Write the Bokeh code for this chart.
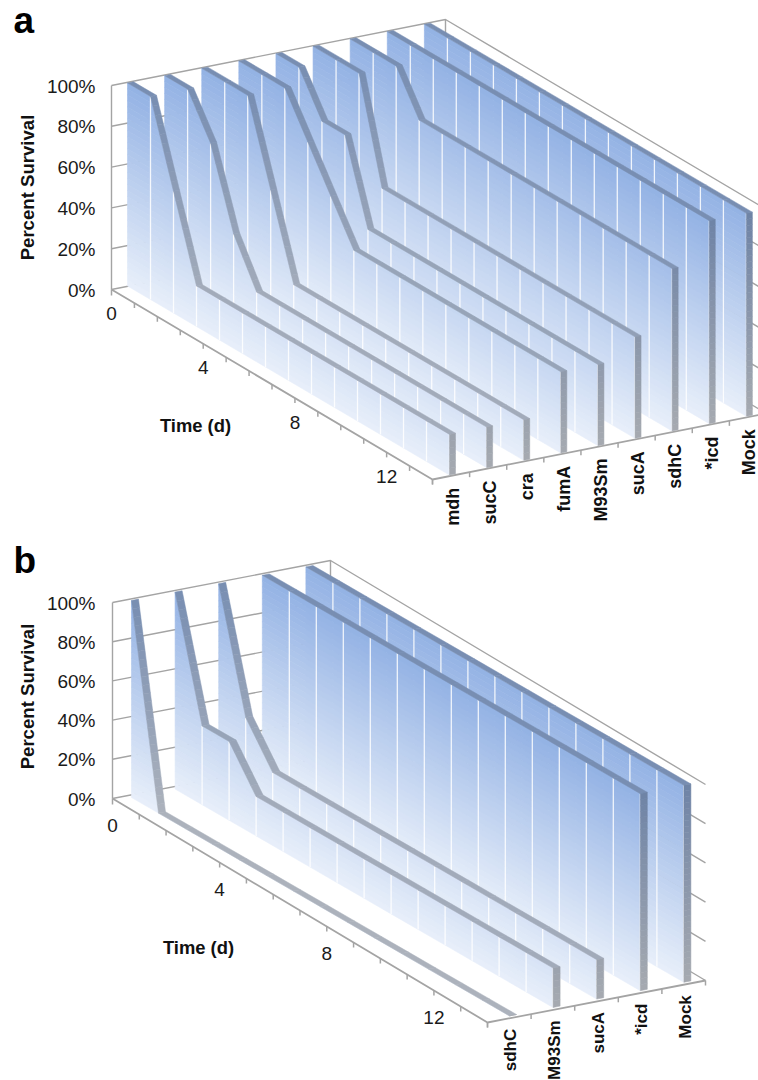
from bokeh.plotting import figure
from bokeh.layouts import column
from bokeh.models import Range1d
from bokeh.core.properties import value
from bokeh.embed import file_html
from bokeh.resources import INLINE

# ---------------- data (percent survival at day 0..14) ----------------
a_names = ["mdh", "sucC", "cra", "fumA", "M93Sm", "sucA", "sdhC", "*icd", "Mock"]
a_mdh = [100, 100, 60, 20, 20, 20, 20, 20, 20, 20, 20, 20, 20, 20, 20]
a_sucC = [100, 100, 80, 42, 20, 20, 20, 20, 20, 20, 20, 20, 20, 20, 20]
a_cra = [100, 100, 100, 60, 20, 20, 20, 20, 20, 20, 20, 20, 20, 20, 20]
a_fumA = [100, 100, 100, 80, 60, 40, 40, 40, 40, 40, 40, 40, 40, 40, 40]
a_M93Sm = [100, 100, 80, 80, 40, 40, 40, 40, 40, 40, 40, 40, 40, 40, 40]
a_sucA = [100, 100, 100, 50, 50, 50, 50, 50, 50, 50, 50, 50, 50, 50, 50]
a_sdhC = [100, 100, 100, 80, 80, 80, 80, 80, 80, 80, 80, 80, 80, 80, 80]
a_icd = [100] * 15
a_Mock = [100] * 15

b_names = ["sdhC", "M93Sm", "sucA", "*icd", "Mock"]
b_sdhC = [100, 0, 0, 0, 0, 0, 0, 0, 0, 0, 0, 0, 0, 0, 0]
b_M93Sm = [100, 40, 40, 20, 20, 20, 20, 20, 20, 20, 20, 20, 20, 20, 20]
b_sucA = [100, 40, 20, 20, 20, 20, 20, 20, 20, 20, 20, 20, 20, 20, 20]
b_icd = [100] * 15
b_Mock = [100] * 15

y_ticks = [0, 20, 40, 60, 80, 100]
t_ticks = [0, 4, 8, 12]
FONT = "Liberation Sans"
AXIS = "#a4a4a4"
W = 758


def lerp(c0, c1, f):
    return "#%02x%02x%02x" % tuple(round(a + (b - a) * f) for a, b in zip(c0, c1))


WALL0, WALL1 = (232, 239, 250), (147, 178, 228)
STRIP0, STRIP1 = (172, 178, 188), (120, 142, 178)
COL0, COL1 = (166, 170, 176), (110, 131, 166)


def clip(poly, level, keep_above):
    out = []
    for i, (t0, v0) in enumerate(poly):
        t1, v1 = poly[(i + 1) % len(poly)]
        in0 = v0 >= level if keep_above else v0 <= level
        in1 = v1 >= level if keep_above else v1 <= level
        if in0:
            out.append((t0, v0))
        if in0 != in1:
            f = (level - v0) / (v1 - v0)
            out.append((t0 + (t1 - t0) * f, level))
    return out


def panel(y0, y1, cfg, names, series, letter):
    p = figure(width=W, height=y1 - y0, x_range=Range1d(0, W), y_range=Range1d(y1, y0),
               output_backend="svg", toolbar_location=None, min_border=0,
               x_axis_location=None, y_axis_location=None, outline_line_color=None,
               background_fill_color="white", border_fill_color="white")
    p.grid.visible = False
    n = len(names)
    ox, oy, h = cfg["ox"], cfg["oy"], cfg["h"]
    cx, cy = cfg["cat"]
    tx, ty = cfg["time"]
    sx, sy = cx / n, cy / n
    ux, uy = tx / 14, ty / 14

    # back planes: gridlines on the day-0 wall and on the far side wall
    gx, gy = [], []
    for v in y_ticks:
        yy = oy - h * v / 100
        gx.append([ox, ox + cx, ox + cx + tx])
        gy.append([yy, yy + cy, yy + cy + ty])
    gx.append([ox, ox])
    gy.append([oy, oy - h])
    gx.append([ox + cx, ox + cx])
    gy.append([oy + cy, oy + cy - h])
    p.multi_line(gx, gy, line_color=AXIS, line_width=1.4)

    # axes on the floor
    p.line([ox, ox + tx, ox + tx + cx], [oy, oy + ty, oy + ty + cy], line_color=AXIS, line_width=1.8)
    kx, ky = [[ox, ox]], [[oy, oy + 6]]
    for i in range(1, 15):
        kx.append([ox + ux * i] * 2)
        ky.append([oy + uy * i, oy + uy * i + 5])
    for i in range(0, n + 1):
        kx.append([ox + tx + sx * i] * 2)
        ky.append([oy + ty + sy * i, oy + ty + sy * i + 5])
    p.multi_line(kx, ky, line_color=AXIS, line_width=1.5)

    # walls, painted from the back to the front
    wx0, wy0, wh = cfg["wx"], cfg["wy"], cfg["wh"]
    dx, dy = cfg["wt"]
    ex, ey = cfg["depth"]
    for s in reversed(range(n)):
        vals = series[s]
        bx = wx0 + sx * s
        by = wy0 + sy * s
        P = lambda t, v: (bx + dx * t, by + dy * t - wh * v / 100)
        xs, ys, cols = [], [], []
        bands = 34
        for t in range(14):
            quad = [(t, 0), (t + 1, 0), (t + 1, vals[t + 1]), (t, vals[t])]
            for j in range(bands):
                lo, hi = 100 * j / bands, 100 * (j + 1) / bands
                poly = clip(clip(quad, lo, True), hi, False)
                if len(poly) < 3:
                    continue
                pts = [P(*q) for q in poly]
                xs.append([q[0] for q in pts])
                ys.append([q[1] for q in pts])
                cols.append(lerp(WALL0, WALL1, (lo + hi) / 200))
        p.patches(xs, ys, fill_color=cols, line_color=cols, line_width=0.6)

        dvx, dvy = [], []
        for t in range(1, 15):
            if vals[t] > 0:
                a, b = P(t, 0), P(t, vals[t])
                dvx.append([a[0], b[0]])
                dvy.append([a[1], b[1]])
        if dvx:
            p.multi_line(dvx, dvy, line_color="white", line_width=1.3, line_alpha=0.85)

        xs, ys, cols = [], [], []
        for t in range(14):
            a, b = vals[t], vals[t + 1]
            m = max(1, int(abs(a - b) / 4))
            for k in range(m):
                ta, tb = t + k / m, t + (k + 1) / m
                va, vb = a + (b - a) * k / m, a + (b - a) * (k + 1) / m
                q0, q1 = P(ta, va), P(tb, vb)
                xs.append([q0[0], q1[0], q1[0] + ex, q0[0] + ex])
                ys.append([q0[1], q1[1], q1[1] + ey, q0[1] + ey])
                cols.append(lerp(STRIP0, STRIP1, (va + vb) / 200))
        last = vals[14]
        m = max(1, int(last / 3))
        for k in range(m):
            va, vb = last * k / m, last * (k + 1) / m
            q0, q1 = P(14, va), P(14, vb)
            xs.append([q0[0], q1[0], q1[0] + ex, q0[0] + ex])
            ys.append([q0[1], q1[1], q1[1] + ey, q0[1] + ey])
            cols.append(lerp(COL0, COL1, (va + vb) / 200))
        p.patches(xs, ys, fill_color=cols, line_color=cols, line_width=0.5)

    # texts
    txt = dict(text_font=value(FONT), text_color="#1a1a1a")
    p.text([cfg["ylab_x"]] * 6, [oy - h * v / 100 + 0.5 for v in y_ticks], [f"{v}%" for v in y_ticks],
           text_align="right", text_baseline="middle", text_font_size="19px", **txt)
    lx, ly = cfg["t_lab"]
    p.text([ox + ux * v + lx for v in t_ticks], [oy + uy * v + ly for v in t_ticks],
           [str(v) for v in t_ticks], text_align="center", text_baseline="middle", text_font_size="19px", **txt)
    bold = dict(text_font=value(FONT), text_font_style="bold", text_color="#111111")
    p.text([cfg["ytitle"][0]], [cfg["ytitle"][1]], ["Percent Survival"], angle=1.5708,
           text_align="center", text_baseline="middle", text_font_size="18.6px", **bold)
    p.text([cfg["ttitle"][0]], [cfg["ttitle"][1]], ["Time (d)"],
           text_align="center", text_baseline="middle", text_font_size="18.4px", **bold)
    p.text([ox + tx + sx * (i + 0.5) + cfg["c_lab"][0] for i in range(n)],
           [oy + ty + sy * (i + 0.5) + cfg["c_lab"][1] for i in range(n)], names, angle=1.5708,
           text_align="right", text_baseline="middle", text_font_size=cfg["c_size"], **bold)
    p.text([13], [cfg["letter_y"]], [letter], text_align="left", text_baseline="alphabetic",
           text_font_size="37px", text_font=value(FONT), text_font_style="bold", text_color="black")
    return p


cfg_a = dict(ox=111, oy=289, h=204, cat=(334, -66), time=(321, 190), wx=127, wy=285.5, wh=203,
             wt=(23.0, 13.5), depth=(6, -1.2), ylab_x=95, t_lab=(0, 24),
             ytitle=(27, 187), ttitle=(195, 425), c_lab=(1.5, 12), c_size="18px", letter_y=20)
cfg_b = dict(ox=112, oy=798, h=196, cat=(218, -42), time=(375, 224), wx=131, wy=797, wh=197,
             wt=(27.0, 15.6), depth=(7, -1.4), ylab_x=95, t_lab=(0, 27),
             ytitle=(27, 696), ttitle=(198, 947), c_lab=(1.5, 10.5), c_size="17px", letter_y=560)

p_a = panel(0, 540, cfg_a, a_names, [a_mdh, a_sucC, a_cra, a_fumA, a_M93Sm, a_sucA, a_sdhC, a_icd, a_Mock], "a")
p_b = panel(540, 1080, cfg_b, b_names, [b_sdhC, b_M93Sm, b_sucA, b_icd, b_Mock], "b")

page = column(p_a, p_b, spacing=0)
open("out.html", "w").write(file_html(page, INLINE))
